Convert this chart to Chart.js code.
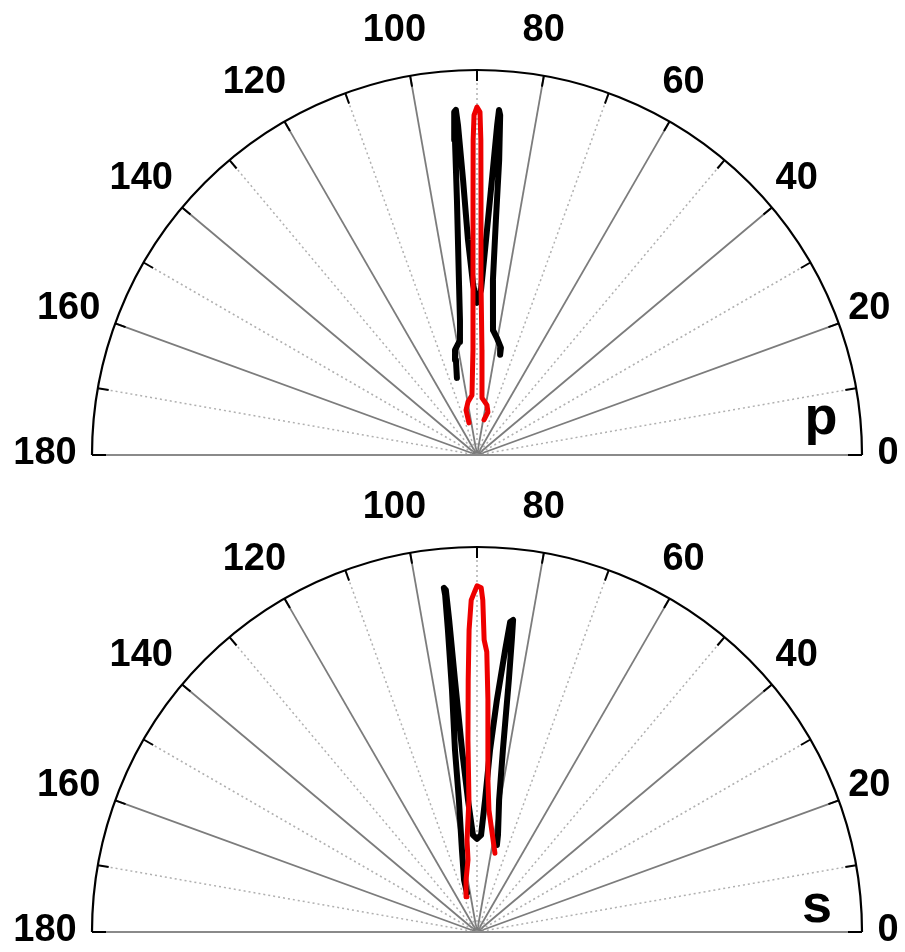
<!DOCTYPE html>
<html><head><meta charset="utf-8">
<script src="https://cdn.jsdelivr.net/npm/chart.js@4.4.0/dist/chart.umd.min.js"></script>
<style>html,body{margin:0;padding:0;background:#fff}canvas{display:block}</style>
</head><body>
<canvas id="cp" width="905" height="476"></canvas>
<canvas id="cs" width="905" height="476"></canvas>
<script>
// ---- data (angle in degrees, normalized radius) ----
const angleTicks = [0, 20, 40, 60, 80, 100, 120, 140, 160, 180];
const panelLabels = ['p', 's'];

const pRedAngle  = [104.0,103.7,99.6,94.8,92.2,91.3,90.9,90.7,90.5,90.0,89.5,89.3,89.1,88.7,87.3,85.0,78.7,75.7,78.7];
const pRedRadius = [0.086,0.120,0.140,0.156,0.273,0.455,0.662,0.818,0.883,0.904,0.891,0.818,0.662,0.455,0.273,0.149,0.132,0.115,0.093];

const pBlackAngle  = [104.6,102.5,101.8,99.05,97.2,95.9,94.5,94.0,93.8,93.5,93.3,92.9,92.4,91.3,90.0,88.6,87.6,86.9,86.5,86.35,86.1,85.7,85.4,84.8,82.7,80.3,77.4,77.0];
const pBlackRadius = [0.207,0.253,0.279,0.297,0.353,0.457,0.664,0.820,0.893,0.898,0.859,0.715,0.559,0.442,0.395,0.429,0.559,0.715,0.859,0.898,0.885,0.768,0.612,0.456,0.327,0.308,0.285,0.267];

const sRedAngle  = [105.9,101.9,97.1,96.2,93.5,92.7,92.0,91.5,91.0,90.3,90.0,89.3,89.0,88.6,88.0,87.3,85.9,84.4,80.1,77.2];
const sRedRadius = [0.095,0.138,0.189,0.240,0.343,0.499,0.655,0.785,0.862,0.888,0.899,0.894,0.862,0.759,0.728,0.603,0.396,0.318,0.243,0.210];

const sBlackAngle  = [104.4,104.0,100.4,97.8,96.9,95.9,95.5,95.4,95.5,95.2,95.1,95.0,94.7,93.9,92.4,90.0,87.6,86.5,85.9,85.1,84.3,83.9,83.4,83.2,82.8,81.9,80.5,77.8,77.1];
const sBlackRadius = [0.105,0.139,0.217,0.346,0.476,0.632,0.788,0.879,0.898,0.892,0.814,0.657,0.474,0.344,0.252,0.242,0.252,0.343,0.474,0.605,0.736,0.810,0.816,0.764,0.660,0.477,0.348,0.258,0.232];

// ---- layout ----
const W = 905, H = 476, CX = 477, RPX = 385;

function toXY(angles, radii) {
  return angles.map((a, i) => {
    const t = a * Math.PI / 180;
    return { x: radii[i] * Math.cos(t), y: radii[i] * Math.sin(t) };
  });
}

function gridPlugin(label, labelDx, labelBaseDy) {
  return {
    id: 'polarGrid_' + label,
    beforeDatasetsDraw(chart) {
      const { ctx } = chart;
      const xs = chart.scales.x, ys = chart.scales.y;
      const ox = xs.getPixelForValue(0), oy = ys.getPixelForValue(0);
      const rp = xs.getPixelForValue(1) - ox;
      ctx.save();
      for (let a = 10; a < 180; a += 10) {
        const t = a * Math.PI / 180;
        ctx.beginPath();
        if (a % 20 === 0) {
          ctx.setLineDash([]); ctx.strokeStyle = '#7c7c7c'; ctx.lineWidth = 1.8;
        } else {
          ctx.setLineDash([2, 3]); ctx.strokeStyle = '#b0b0b0'; ctx.lineWidth = 1.5;
        }
        ctx.moveTo(ox, oy);
        ctx.lineTo(ox + rp * Math.cos(t), oy - rp * Math.sin(t));
        ctx.stroke();
      }
      ctx.setLineDash([]);
      ctx.beginPath();
      ctx.strokeStyle = '#8a8a8a'; ctx.lineWidth = 2;
      ctx.moveTo(ox - rp, oy); ctx.lineTo(ox + rp, oy); ctx.stroke();
      ctx.beginPath();
      ctx.strokeStyle = '#000'; ctx.lineWidth = 2.2;
      ctx.arc(ox, oy, rp, Math.PI, 2 * Math.PI);
      ctx.stroke();
      ctx.lineWidth = 2;
      for (let a = 0; a <= 180; a += 10) {
        const t = a * Math.PI / 180;
        const len = (a === 0 || a === 180) ? 14 : 11;
        ctx.beginPath();
        ctx.moveTo(ox + rp * Math.cos(t), oy - rp * Math.sin(t));
        ctx.lineTo(ox + (rp - len) * Math.cos(t), oy - (rp - len) * Math.sin(t));
        ctx.stroke();
      }
      ctx.restore();
    },
    afterDraw(chart) {
      const { ctx } = chart;
      const xs = chart.scales.x, ys = chart.scales.y;
      const ox = xs.getPixelForValue(0), oy = ys.getPixelForValue(0);
      const rp = xs.getPixelForValue(1) - ox;
      ctx.save();
      ctx.fillStyle = '#000';
      ctx.font = 'bold 38px "Liberation Sans", Arial, sans-serif';
      ctx.textAlign = 'center';
      ctx.textBaseline = 'middle';
      const rcx = ox - 8, rcy = oy - 2;
      angleTicks.forEach(a => {
        const t = a * Math.PI / 180;
        const rl = rp + 39 + 6 * Math.abs(Math.sin(t)) - (a === 0 ? 5 : 0);
        ctx.fillText(String(a), rcx + rl * Math.cos(t), rcy - rl * Math.sin(t) + 1);
      });
      ctx.font = 'bold 54px "Liberation Sans", Arial, sans-serif';
      ctx.textBaseline = 'alphabetic';
      ctx.fillText(label, ox + labelDx, oy + labelBaseDy);
      ctx.restore();
    }
  };
}

function makeChart(id, cy, redA, redR, blackA, blackR, label, labelDx, labelBaseDy) {
  const ds = (data, color, w) => ({
    data, borderColor: color, backgroundColor: color, borderWidth: w,
    showLine: true, pointRadius: 0, tension: 0, fill: false,
    borderJoinStyle: 'round', borderCapStyle: 'round', clip: false
  });
  return new Chart(document.getElementById(id), {
    type: 'scatter',
    data: { datasets: [ds(toXY(redA, redR), '#ee0000', 5), ds(toXY(blackA, blackR), '#000000', 6)] },
    options: {
      responsive: false, animation: false, devicePixelRatio: 1,
      layout: { padding: 0 },
      plugins: { legend: { display: false }, tooltip: { enabled: false } },
      scales: {
        x: { type: 'linear', display: false, min: -CX / RPX, max: (W - CX) / RPX },
        y: { type: 'linear', display: false, min: -(H - cy) / RPX, max: cy / RPX }
      }
    },
    plugins: [gridPlugin(label, labelDx, labelBaseDy)]
  });
}

makeChart('cp', 455, pRedAngle, pRedRadius, pBlackAngle, pBlackRadius, panelLabels[0], 344, -21);
makeChart('cs', 456, sRedAngle, sRedRadius, sBlackAngle, sBlackRadius, panelLabels[1], 340, -10);
</script>
</body></html>
